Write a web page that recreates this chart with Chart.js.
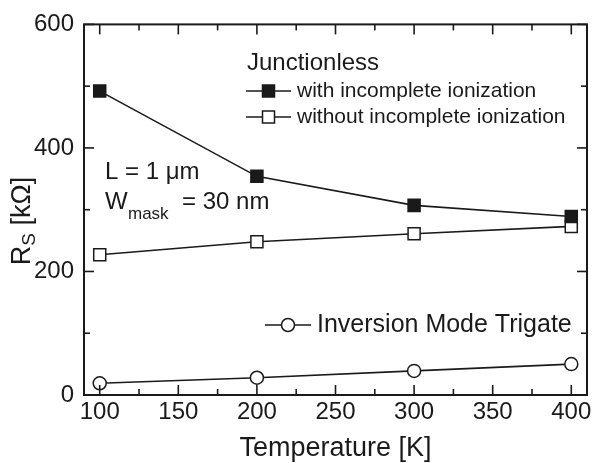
<!DOCTYPE html>
<html>
<head>
<meta charset="utf-8">
<script src="https://cdn.jsdelivr.net/npm/chart.js@4/dist/chart.umd.min.js"></script>
<style>
  body { margin: 0; background: #fff; }
  canvas { display: block; }
</style>
</head>
<body>
<canvas id="rsChart" width="597" height="463"></canvas>
<script>
// Series resistance vs temperature
const temperatures = [100, 200, 300, 400];
const withIonization = [492, 354, 307, 289];
const withoutIonization = [227, 248, 261, 273];
const inversionTrigate = [19, 28, 39, 50];

const xTicks = [100, 150, 200, 250, 300, 350, 400];
const xMinor = [125, 175, 225, 275, 325, 375];
const yTicks = [0, 200, 400, 600];
const yMinor = [100, 300, 500];

const INK = '#1a1a1a';
const FONT = '"Liberation Sans", Arial, sans-serif';

const toPoints = ys => temperatures.map((t, i) => ({ x: t, y: ys[i] }));

// frame, inward ticks on all four sides, legend blocks and labels
const decorations = {
  id: 'decorations',
  afterDraw(chart) {
    const { ctx, chartArea: a, scales } = chart;
    const xs = scales.x, ys = scales.y;
    ctx.save();
    ctx.strokeStyle = INK;
    ctx.lineWidth = 2;
    ctx.strokeRect(a.left, a.top, a.right - a.left, a.bottom - a.top);

    ctx.lineWidth = 1.6;
    const tick = (x1, y1, x2, y2) => { ctx.beginPath(); ctx.moveTo(x1, y1); ctx.lineTo(x2, y2); ctx.stroke(); };
    xTicks.forEach(v => { const p = xs.getPixelForValue(v); tick(p, a.bottom, p, a.bottom - 10); tick(p, a.top, p, a.top + 10); });
    xMinor.forEach(v => { const p = xs.getPixelForValue(v); tick(p, a.bottom, p, a.bottom - 6); tick(p, a.top, p, a.top + 6); });
    yTicks.forEach(v => { const p = ys.getPixelForValue(v); tick(a.left, p, a.left + 10, p); tick(a.right, p, a.right - 10, p); });
    yMinor.forEach(v => { const p = ys.getPixelForValue(v); tick(a.left, p, a.left + 6, p); tick(a.right, p, a.right - 6, p); });

    // legend sample: short line with a marker in the middle
    const sample = (x1, x2, y, style, fill) => {
      ctx.strokeStyle = INK;
      ctx.lineWidth = 1.6;
      tick(x1, y, x2, y);
      const cx = (x1 + x2) / 2;
      ctx.beginPath();
      if (style === 'circle') ctx.arc(cx, y, 6.5, 0, Math.PI * 2);
      else ctx.rect(cx - 6, y - 6, 12, 12);
      ctx.fillStyle = fill;
      ctx.fill();
      ctx.lineWidth = 1.5;
      ctx.stroke();
    };

    ctx.fillStyle = INK;
    ctx.textBaseline = 'middle';
    ctx.textAlign = 'left';
    ctx.font = '24px ' + FONT;
    ctx.fillText('Junctionless', 247, 63);

    sample(246, 291, 91, 'rect', INK);
    sample(246, 291, 117, 'rect', '#fff');
    ctx.fillStyle = INK;
    ctx.font = '21px ' + FONT;
    ctx.fillText('with incomplete ionization', 297, 91);
    ctx.fillText('without incomplete ionization', 297, 117);

    sample(265, 311, 325, 'circle', '#fff');
    ctx.fillStyle = INK;
    ctx.font = '25px ' + FONT;
    ctx.fillText('Inversion Mode Trigate', 317, 325);

    // device dimensions
    ctx.font = '24px ' + FONT;
    ctx.fillText('L = 1 \u03bcm', 105, 172);
    ctx.fillText('W', 105, 202);
    ctx.fillText('= 30 nm', 182, 202);
    ctx.font = '17px ' + FONT;
    ctx.fillText('mask', 128, 214);

    // y axis title with subscript
    ctx.translate(23, 221);
    ctx.rotate(-Math.PI / 2);
    ctx.font = '27px ' + FONT;
    const wR = ctx.measureText('R').width;
    ctx.font = '19px ' + FONT;
    const wS = ctx.measureText('S').width;
    ctx.font = '27px ' + FONT;
    const wRest = ctx.measureText(' [k\u03a9]').width;
    let x0 = -(wR + wS + wRest) / 2;
    ctx.fillText('R', x0, 0);
    ctx.font = '19px ' + FONT;
    ctx.fillText('S', x0 + wR, 7);
    ctx.font = '27px ' + FONT;
    ctx.fillText(' [k\u03a9]', x0 + wR + wS, 0);
    ctx.restore();
  }
};

const lineSet = (ys, style, fill, radius) => ({
  data: toPoints(ys),
  borderColor: INK,
  borderWidth: 1.6,
  pointStyle: style,
  pointRadius: radius,
  pointHoverRadius: radius,
  pointBackgroundColor: fill,
  pointBorderColor: INK,
  pointBorderWidth: 1.5,
  tension: 0,
  fill: false
});

new Chart(document.getElementById('rsChart'), {
  type: 'line',
  data: {
    datasets: [
      lineSet(withIonization, 'rect', INK, 8.5),
      lineSet(withoutIonization, 'rect', '#fff', 8.5),
      lineSet(inversionTrigate, 'circle', '#fff', 6.5)
    ]
  },
  options: {
    responsive: false,
    animation: false,
    layout: { padding: { top: 18, right: 5, left: 0, bottom: 0 } },
    plugins: { legend: { display: false }, tooltip: { enabled: false } },
    scales: {
      x: {
        type: 'linear',
        min: 90,
        max: 410,
        afterBuildTicks: s => { s.ticks = xTicks.map(v => ({ value: v })); },
        afterFit: s => { s.height = 68; },
        grid: { display: false, drawTicks: false },
        border: { display: false },
        ticks: { padding: 3, color: INK, font: { family: FONT, size: 24 } },
        title: {
          display: true,
          text: 'Temperature [K]',
          color: INK,
          padding: 0,
          font: { family: FONT, size: 27, lineHeight: 1.1 }
        }
      },
      y: {
        min: 0,
        max: 600,
        afterBuildTicks: s => { s.ticks = yTicks.map(v => ({ value: v })); },
        afterFit: s => { s.width = 84; },
        grid: { display: false, drawTicks: false },
        border: { display: false },
        ticks: { padding: 10, color: INK, font: { family: FONT, size: 24 } }
      }
    }
  },
  plugins: [decorations]
});
</script>
</body>
</html>
